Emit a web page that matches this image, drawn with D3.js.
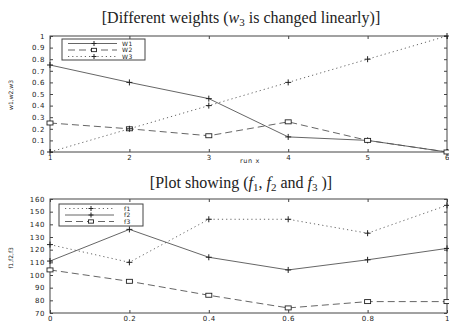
<!DOCTYPE html>
<html><head><meta charset="utf-8">
<script src="https://cdn.jsdelivr.net/npm/d3@7"></script>
<style>body{margin:0;background:#fff}svg{display:block}</style>
</head><body>
<script>
// ---- data ----
const runs = [1, 2, 3, 4, 5, 6];
const w1 = [0.75, 0.6, 0.46, 0.13, 0.1, 0.0];
const w2 = [0.25, 0.2, 0.14, 0.26, 0.1, 0.0];
const w3 = [0.0, 0.2, 0.4, 0.6, 0.8, 1.0];
const topYTicks = [0, 0.1, 0.2, 0.3, 0.4, 0.5, 0.6, 0.7, 0.8, 0.9, 1];
const topXTicks = [1, 2, 3, 4, 5, 6];

const xs = [0, 0.2, 0.4, 0.6, 0.8, 1.0];
const f1 = [124, 110, 144, 144, 133, 155];
const f2 = [111, 136, 114, 104, 112, 121];
const f3 = [104, 95, 84, 74, 79, 79];
const botYTicks = [70, 80, 90, 100, 110, 120, 130, 140, 150, 160];
const botXTicks = [0, 0.2, 0.4, 0.6, 0.8, 1];

const W = 449, H = 323;
const svg = d3.select("body").append("svg").attr("width", W).attr("height", H);
const lineCol = "#555", axisCol = "#444";
const tickFont = "DejaVu Sans";

function title(txt, y) {
  svg.append("text").attr("x", 241).attr("y", y).attr("text-anchor", "middle")
    .attr("font-family", "Liberation Serif, DejaVu Serif, serif").attr("font-size", 16)
    .attr("fill", "#222").html(txt);
}

function panel(cfg) {
  const {x, y, xTicks, yTicks, series, legend, ylabel, xlabel, xfmt, yfmt} = cfg;
  const g = svg.append("g");
  g.append("rect").attr("x", x.range()[0]).attr("y", y.range()[1])
    .attr("width", x.range()[1] - x.range()[0]).attr("height", y.range()[0] - y.range()[1])
    .attr("fill", "none").attr("stroke", axisCol).attr("stroke-width", 1);
  const tl = 3;
  const ax = g.append("g").attr("transform", `translate(0,${y.range()[0]})`)
    .call(d3.axisBottom(x).tickValues(xTicks).tickSize(-tl).tickPadding(3).tickFormat(xfmt));
  const axTop = g.append("g").attr("transform", `translate(0,${y.range()[1]})`)
    .call(d3.axisTop(x).tickValues(xTicks).tickSize(-tl).tickFormat(""));
  const ay = g.append("g").attr("transform", `translate(${x.range()[0]},0)`)
    .call(d3.axisLeft(y).tickValues(yTicks).tickSize(-tl).tickPadding(5).tickFormat(yfmt));
  const ayR = g.append("g").attr("transform", `translate(${x.range()[1]},0)`)
    .call(d3.axisRight(y).tickValues(yTicks).tickSize(-tl).tickFormat(""));
  [ax, axTop, ay, ayR].forEach(a => {
    a.select(".domain").remove();
    a.selectAll("line").attr("stroke", axisCol);
    a.selectAll("text").attr("font-family", tickFont).attr("font-size", 7).attr("fill", "#222")
      .attr("letter-spacing", 0.6);
  });
  series.forEach(s => {
    const pts = s.x.map((xv, i) => [x(xv), y(s.y[i])]);
    g.append("path").attr("d", d3.line()(pts)).attr("fill", "none")
      .attr("stroke", lineCol).attr("stroke-width", 0.9).attr("stroke-dasharray", s.dash);
    pts.forEach(p => marker(g, p[0], p[1], s.marker, 3));
  });
  const lg = g.append("g");
  lg.append("rect").attr("x", legend.x).attr("y", legend.y).attr("width", legend.w).attr("height", legend.h)
    .attr("fill", "#fff").attr("stroke", axisCol).attr("stroke-width", 1);
  series.forEach((s, i) => {
    const ly = legend.y + 4.5 + i * 6.5;
    lg.append("line").attr("x1", legend.x + 6).attr("x2", legend.x + 55).attr("y1", ly).attr("y2", ly)
      .attr("stroke", lineCol).attr("stroke-width", 0.9).attr("stroke-dasharray", s.dash);
    marker(lg, legend.x + 32, ly, s.marker, 2.5);
    lg.append("text").attr("x", legend.x + legend.tx).attr("y", ly + 2).attr("font-family", tickFont)
      .attr("font-size", 6).attr("letter-spacing", 0.5).attr("fill", "#222").text(s.name);
  });
  svg.append("text").attr("transform", `translate(${ylabel.x},${ylabel.y}) rotate(-90)`)
    .attr("text-anchor", "middle").attr("font-family", tickFont).attr("font-size", 6).attr("fill", "#222")
    .text(ylabel.t);
  if (xlabel) svg.append("text").attr("x", xlabel.x).attr("y", xlabel.y).attr("text-anchor", "middle")
    .attr("font-family", tickFont).attr("font-size", 6.5).attr("letter-spacing", 0.6).attr("fill", "#222").text(xlabel.t);
}

function marker(g, cx, cy, type, r) {
  if (type === "plus") {
    g.append("path").attr("d", `M${cx - r},${cy}H${cx + r}M${cx},${cy - r}V${cy + r}`)
      .attr("stroke", "#222").attr("stroke-width", 1);
  } else {
    g.append("rect").attr("x", cx - r).attr("y", cy - r * 0.67).attr("width", 2 * r).attr("height", r * 1.33)
      .attr("fill", "#fff").attr("stroke", "#222").attr("stroke-width", 0.9);
  }
}

title("[Different weights (<tspan font-style='italic'>w</tspan><tspan font-size='11' dy='3'>3</tspan><tspan dy='-3'> is changed linearly)]</tspan>", 23);
title("[Plot showing (<tspan font-style='italic'>f</tspan><tspan font-size='11' dy='3'>1</tspan><tspan dy='-3'>, </tspan><tspan font-style='italic'>f</tspan><tspan font-size='11' dy='3'>2</tspan><tspan dy='-3'> and </tspan><tspan font-style='italic'>f</tspan><tspan font-size='11' dy='3'>3</tspan><tspan dy='-3'> )]</tspan>", 188);

const xTop = d3.scaleLinear().domain([1, 6]).range([50, 447]);
const yTop = d3.scaleLinear().domain([0, 1]).range([152, 36]);
panel({
  x: xTop, y: yTop, xTicks: topXTicks, yTicks: topYTicks,
  xfmt: d3.format("d"), yfmt: d => d === 0 || d === 1 ? String(d) : d3.format(".1f")(d),
  series: [
    {name: "W1", x: runs, y: w1, dash: null, marker: "plus"},
    {name: "W2", x: runs, y: w2, dash: "7,4", marker: "square"},
    {name: "W3", x: runs, y: w3, dash: "1.2,3", marker: "plus"}
  ],
  legend: {x: 62, y: 39, w: 83, h: 21, tx: 60},
  ylabel: {x: 13, y: 95, t: "w1,w2,w3"},
  xlabel: {x: 250, y: 163, t: "run x"}
});

const xBot = d3.scaleLinear().domain([0, 1]).range([50, 447]);
const yBot = d3.scaleLinear().domain([70, 160]).range([313, 199]);
panel({
  x: xBot, y: yBot, xTicks: botXTicks, yTicks: botYTicks,
  xfmt: d => d === 0 || d === 1 ? String(d) : d3.format(".1f")(d), yfmt: d3.format("d"),
  series: [
    {name: "f1", x: xs, y: f1, dash: "1.2,3", marker: "plus"},
    {name: "f2", x: xs, y: f2, dash: null, marker: "plus"},
    {name: "f3", x: xs, y: f3, dash: "7,4", marker: "square"}
  ],
  legend: {x: 59, y: 204, w: 84, h: 22, tx: 65},
  ylabel: {x: 13, y: 258, t: "f1,f2,f3"},
  xlabel: null
});
</script>
</body></html>
